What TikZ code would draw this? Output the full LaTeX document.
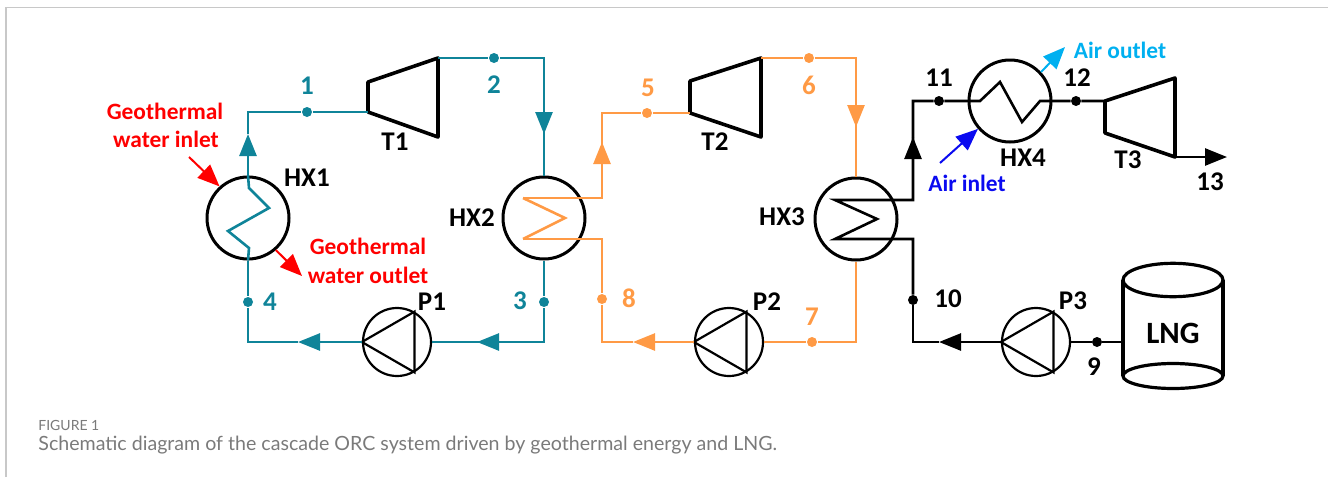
\documentclass[tikz,border=0pt]{standalone}
\usepackage{fontspec}
\setmainfont{Carlito}
\newfontfamily\capfont{Lato}
\usetikzlibrary{arrows.meta}

\definecolor{tealpipe}{HTML}{0F8499}
\definecolor{orangepipe}{HTML}{FF9A45}
\definecolor{airblue}{HTML}{0A0AF0}
\definecolor{aircyan}{HTML}{00B0F0}
\definecolor{capgray}{HTML}{7A7A7A}
\definecolor{framegray}{HTML}{C8C8C8}

\tikzset{
    hx/.style={draw, circle, line width=1.5pt, minimum size=41pt, inner sep=0pt},
    pump/.style={draw, circle, line width=1.1pt, minimum size=34pt, inner sep=0pt},
    pipe/.style={line width=1.3pt},
    flow/.style={pipe, -{Triangle[length=11pt, width=8.5pt]}},
    stream/.style={line width=1pt, -{Triangle[length=11pt, width=9pt]}},
    dot/.style={circle, fill, inner sep=0pt, minimum size=5pt},
    lab/.style={font=\bfseries\fontsize{13.5}{13.5}\selectfont, inner sep=0pt},
    streamlab/.style={font=\bfseries\fontsize{11.7}{11.7}\selectfont, inner sep=0pt},
}

\begin{document}
\begin{tikzpicture}[x=0.5pt, y=-0.5pt]
    \useasboundingbox (0,0) rectangle (1328,477);

    % Frame
    \coordinate (framea) at (6,477);
    \coordinate (frameb) at (6,7.5);
    \coordinate (framec) at (1328,7.5);
    \draw[framegray, line width=0.7pt] (framea) -- (frameb) -- (framec);

    % Heat exchangers
    \node[hx] at (248,218) (hx1) {};
    \node[hx] at (544,218) (hx2) {};
    \node[hx] at (856,219) (hx3) {};
    \node[hx] at (1010,101) (hx4) {};

    % Pumps
    \node[pump] at (397,342) (p1) {};
    \node[pump] at (729,342) (p2) {};
    \node[pump] at (1036,342) (p3) {};
    \draw[line width=1.1pt] (p1.west) -- (p1.60) -- (p1.-60) -- cycle;
    \draw[line width=1.1pt] (p2.west) -- (p2.60) -- (p2.-60) -- cycle;
    \draw[line width=1.1pt] (p3.west) -- (p3.60) -- (p3.-60) -- cycle;

    % Turbines
    \coordinate (t1in) at (368,112);
    \coordinate (t1out) at (438,58);
    \coordinate (t2in) at (690,113);
    \coordinate (t2out) at (761,58);
    \coordinate (t3in) at (1105,101);
    \coordinate (t3out) at (1175,157);
    \draw[line width=1.8pt, line join=round] (t1in) -- (368,82) -- (t1out) -- (438,137) -- cycle;
    \draw[line width=1.8pt, line join=round] (t2in) -- (690,81) -- (t2out) -- (761,137) -- cycle;
    \draw[line width=1.8pt, line join=round] (t3in) -- (1175,78) -- (t3out) -- (1105,133) -- cycle;

    % Tank
    \node at (1173,333) (lng) {\bfseries\fontsize{15.5}{15.5}\selectfont LNG};
    \draw[line width=1.6pt] (1173,280) ellipse[x radius=50, y radius=16.7];
    \draw[line width=1.6pt] (1173,376) ellipse[x radius=50, y radius=12.5];
    \draw[line width=1.6pt] (1123,280) -- (1123,376);
    \draw[line width=1.6pt] (1223,280) -- (1223,376);

    % Teal loop
    \begin{scope}[tealpipe, pipe]
        \node[dot] at (307,112) (s1) {};
        \node[dot] at (494,58) (s2) {};
        \node[dot] at (544,302) (s3) {};
        \node[dot] at (248,302) (s4) {};
        \coordinate (a1) at (248,134);
        \coordinate (a2) at (544,134);
        \coordinate (a3) at (477,342);
        \coordinate (a4) at (298,342);
        \draw[flow] (hx1.north) -- (a1);
        \draw (a1) |- (s1) -- (t1in);
        \draw (t1out) -- (s2) -| (a2);
        \draw[flow] (s2 -| a2) -- (a2);
        \draw (a2) -- (hx2.north);
        \draw (hx2.south) -- (s3) |- (a3);
        \draw[flow] (s3 |- a3) -- (a3);
        \draw (a3) -- (p1.east);
        \draw[flow] (p1.west) -- (a4);
        \draw (a4) -| (s4) -- (hx1.south);
        % Coil
        \draw (hx1.north) -- (249,188) -- (269,208) -- (228,231) -- (249,248) -- (hx1.south);
    \end{scope}

    % Orange loop
    \begin{scope}[orangepipe, pipe]
        \node[dot] at (647,113) (s5) {};
        \node[dot] at (809,58) (s6) {};
        \node[dot] at (812,342) (s7) {};
        \node[dot] at (602,299) (s8) {};
        \coordinate (a5) at (602,142);
        \coordinate (a6) at (856,127);
        \coordinate (a7) at (633,342);
        \coordinate (c2a) at (523,198);
        \coordinate (c2b) at (565,218);
        \coordinate (c2c) at (523,239);
        \draw (c2a) -- (c2b) -- (c2c);
        \draw (c2a) -| (a5);
        \draw[flow] (602,198) -- (a5);
        \draw (a5) |- (s5) -- (t2in);
        \draw (t2out) -- (s6) -| (a6);
        \draw[flow] (s6 -| a6) -- (a6);
        \draw (a6) -- (hx3.north);
        \draw (hx3.south) |- (s7) -- (p2.east);
        \draw[flow] (p2.west) -- (a7);
        \draw (a7) -| (s8);
        \draw (s8) |- (c2c);
    \end{scope}

    % Black line
    \node[dot] at (1097,342) (s9) {};
    \node[dot] at (913,300) (s10) {};
    \node[dot] at (939,101) (s11) {};
    \node[dot] at (1076,101) (s12) {};
    \coordinate (a9) at (939,342);
    \coordinate (a11) at (913,137);
    \coordinate (c3a) at (835,200);
    \coordinate (c3b) at (877,219);
    \coordinate (c3c) at (835,239);
    \coordinate (out13) at (1227,157);
    \coordinate (tankport) at (1123,342);
    \draw[pipe] (tankport) -- (s9) -- (p3.east);
    \draw[flow] (p3.west) -- (a9);
    \draw[pipe] (a9) -| (s10);
    \draw[pipe] (s10) |- (c3c) -- (c3b) -- (c3a) -| (a11);
    \draw[flow] (913,200) -- (a11);
    \draw[pipe] (a11) |- (s11) -- (hx4.west) -- (980,101) -- (1000,82) -- (1022,122) -- (1040,101) -- (hx4.east) -- (s12) -- (t3in);
    \draw[flow] (t3out) -- (out13);

    % External streams
    \coordinate (geoin) at (189,157);
    \coordinate (geoout) at (302,276);
    \coordinate (airin) at (940,163);
    \coordinate (airout) at (1065,47);
    \draw[stream, red] (geoin) -- (hx1.132);
    \draw[stream, red] (hx1.-49) -- (geoout);
    \draw[stream, airblue] (airin) -- (hx4.221);
    \draw[stream, aircyan] (hx4.43) -- (airout);

    % Stream labels
    \node[streamlab, red] at (165,111) (geoinA) {Geothermal};
    \node[streamlab, red] at (166,139) (geoinB) {water inlet};
    \node[streamlab, red] at (368,246) (geooutA) {Geothermal};
    \node[streamlab, red] at (368,275) (geooutB) {water outlet};
    \node[streamlab, airblue] at (967,183) (airinL) {Air inlet};
    \node[streamlab, aircyan] at (1120,50) (airoutL) {Air outlet};

    % Equipment labels
    \node[lab] at (307,178) (hx1L) {HX1};
    \node[lab] at (472,218) (hx2L) {HX2};
    \node[lab] at (782,217) (hx3L) {HX3};
    \node[lab] at (1023,158) (hx4L) {HX4};
    \node[lab] at (395,142) (t1L) {T1};
    \node[lab] at (715,142) (t2L) {T2};
    \node[lab] at (1128,160) (t3L) {T3};
    \node[lab] at (432,302) (p1L) {P1};
    \node[lab] at (767,302) (p2L) {P2};
    \node[lab] at (1073,301) (p3L) {P3};

    % State point labels
    \node[lab, tealpipe] at (307,86) (n1) {1};
    \node[lab, tealpipe] at (494,85) (n2) {2};
    \node[lab, tealpipe] at (520,301) (n3) {3};
    \node[lab, tealpipe] at (270,302) (n4) {4};
    \node[lab, orangepipe] at (648,88) (n5) {5};
    \node[lab, orangepipe] at (809,85) (n6) {6};
    \node[lab, orangepipe] at (812,317) (n7) {7};
    \node[lab, orangepipe] at (629,298) (n8) {8};
    \node[lab] at (1094,367) (n9) {9};
    \node[lab] at (948,299) (n10) {10};
    \node[lab] at (939,78) (n11) {11};
    \node[lab] at (1077,78) (n12) {12};
    \node[lab] at (1210,182) (n13) {13};

    % Caption
    \node[anchor=base west, inner sep=0pt, capgray, font=\capfont\fontsize{7}{7}\selectfont] at (38,430) (figno) {FIGURE 1};
    \node[anchor=base west, inner sep=0pt, capgray, font=\capfont\fontsize{9.8}{9.8}\selectfont] at (38,450) (caption) {Schematic diagram of the cascade ORC system driven by geothermal energy and LNG.};
\end{tikzpicture}
\end{document}
